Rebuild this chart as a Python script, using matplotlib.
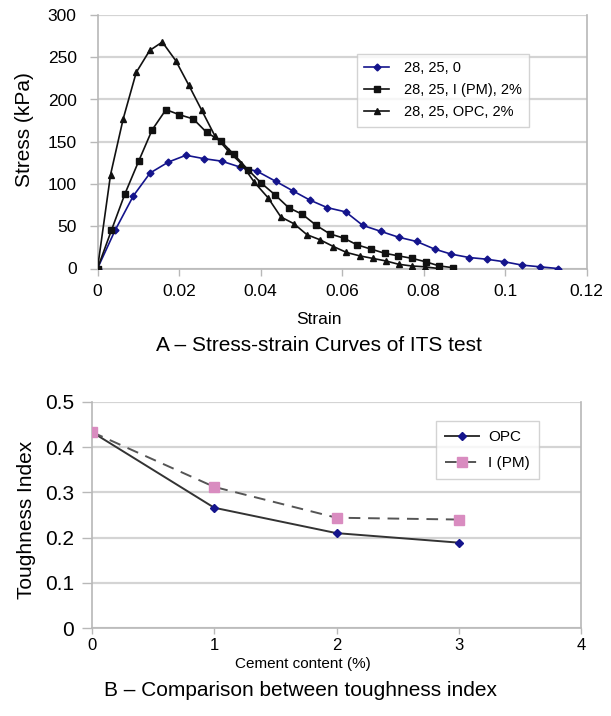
import matplotlib
matplotlib.use("Agg")
import matplotlib.pyplot as plt

plt.rcParams['font.family'] = ['Liberation Sans', 'DejaVu Sans']

# ---- Panel A data: stress-strain curves ----
blue_x = [0, 0.0043, 0.0088, 0.0129, 0.0174, 0.0217, 0.0261, 0.0305, 0.0350, 0.0392, 0.0438, 0.0479, 0.0521,
          0.0564, 0.0609, 0.0651, 0.0695, 0.0739, 0.0783, 0.0827, 0.0868, 0.0912, 0.0955, 0.0998, 0.1042, 0.1086, 0.1129]
blue_y = [0, 45, 86, 113, 126, 134, 130, 127, 120, 115, 103, 92, 81, 72, 67, 51, 44, 37, 32, 23, 17, 13, 11, 8, 4, 2, 0]

sq_x = [0, 0.0034, 0.0067, 0.0101, 0.0134, 0.0168, 0.0201, 0.0235, 0.0268, 0.0302, 0.0335, 0.0369, 0.0402, 0.0436,
        0.0469, 0.0503, 0.0537, 0.0570, 0.0604, 0.0637, 0.0671, 0.0705, 0.0738, 0.0772, 0.0805, 0.0839, 0.0872]
sq_y = [0, 45, 88, 127, 164, 188, 182, 177, 161, 151, 135, 117, 101, 87, 72, 64, 51, 41, 36, 28, 23, 18, 15, 12, 8, 3, 1]

tri_x = [0, 0.0032, 0.0063, 0.0095, 0.0128, 0.0159, 0.0192, 0.0224, 0.0256, 0.0288, 0.0321, 0.0353, 0.0385, 0.0418,
         0.0450, 0.0482, 0.0514, 0.0546, 0.0579, 0.0611, 0.0643, 0.0675, 0.0707, 0.0739, 0.0771, 0.0804, 0.0836]
tri_y = [0, 111, 177, 232, 258, 268, 246, 217, 187, 157, 139, 124, 102, 84, 61, 53, 40, 34, 26, 19, 15, 12, 9, 5, 3, 2, 0]

labels_a = ["28, 25, 0", "28, 25, I (PM), 2%", "28, 25, OPC, 2%"]
xticks_a = [0, 0.02, 0.04, 0.06, 0.08, 0.1, 0.12]
xticklabels_a = ["0", "0.02", "0.04", "0.06", "0.08", "0.1", "0.12"]
yticks_a = [0, 50, 100, 150, 200, 250, 300]

# ---- Panel B data: toughness index ----
cement = [0, 1, 2, 3]
opc = [0.433, 0.266, 0.210, 0.189]
ipm = [0.433, 0.312, 0.244, 0.240]
labels_b = ["OPC", "I (PM)"]
yticks_b = [0, 0.1, 0.2, 0.3, 0.4, 0.5]
yticklabels_b = ["0", "0.1", "0.2", "0.3", "0.4", "0.5"]
xticks_b = [0, 1, 2, 3, 4]

W, H = 611, 716
fig = plt.figure(figsize=(W / 100, H / 100), dpi=100)
fig.patch.set_facecolor('white')

grid_c = '#d4d4d4'
spine_c = '#b8b8b8'
navy = '#14148c'


def style_axes(ax):
    ax.grid(axis='y', color=grid_c, lw=1.6, zorder=0)
    ax.set_axisbelow(True)
    ax.spines['top'].set_visible(False)
    for s in ['left', 'bottom', 'right']:
        ax.spines[s].set_color(spine_c)
        ax.spines[s].set_linewidth(1.2)
    ax.tick_params(axis='both', direction='out', color=spine_c, width=1.0)


# Panel A
axA = fig.add_axes([97.5 / W, 1 - 268.5 / H, 489 / W, 253.5 / H])
axA.plot(blue_x, blue_y, color=navy, lw=1.2, marker='D', ms=3.5, mfc=navy, mec=navy, label=labels_a[0], zorder=3)
axA.plot(sq_x, sq_y, color='#111111', lw=1.2, marker='s', ms=3.8, mfc='#111111', mec='#111111', label=labels_a[1], zorder=4)
axA.plot(tri_x, tri_y, color='#111111', lw=1.2, marker='^', ms=4.2, mfc='#111111', mec='#111111', label=labels_a[2], zorder=4)
axA.set_xlim(0, 0.12)
axA.set_ylim(0, 300)
axA.set_xticks(xticks_a)
axA.set_xticklabels(xticklabels_a)
axA.set_yticks(yticks_a)
style_axes(axA)
axA.tick_params(axis='x', length=5, labelsize=12.5, pad=6)
axA.tick_params(axis='y', length=6, labelsize=12.5, pad=9)
legA = axA.legend(loc='upper left', bbox_to_anchor=(0.531, 0.846), fontsize=10.5, frameon=True,
                  fancybox=False, edgecolor='#c8c8c8', borderpad=0.5, labelspacing=0.55,
                  handlelength=1.7, handletextpad=1.0, borderaxespad=0)
legA.get_frame().set_linewidth(1.0)

fig.text(319 / W, 1 - 320 / H, "Strain", ha='center', va='center', fontsize=12.5)
fig.text(319 / W, 1 - 345 / H, "A \u2013 Stress-strain Curves of ITS test", ha='center', va='center', fontsize=15)
fig.text(25 / W, 1 - 130 / H, "Stress (kPa)", ha='center', va='center', rotation=90, fontsize=15)

# Panel B
axB = fig.add_axes([92 / W, 1 - 628.3 / H, 489 / W, 226.6 / H])
axB.plot(cement, opc, color='#333333', lw=1.4, marker='D', ms=4, mfc=navy, mec=navy, label=labels_b[0], zorder=3)
axB.plot(cement, ipm, color='#555555', lw=1.4, ls=(0, (6, 4)), marker='s', ms=6.5, mfc='#d98cc0', mec='#d98cc0',
         label=labels_b[1], zorder=3)
axB.set_xlim(0, 4)
axB.set_ylim(0, 0.5)
axB.set_xticks(xticks_b)
axB.set_yticks(yticks_b)
axB.set_yticklabels(yticklabels_b)
style_axes(axB)
axB.tick_params(axis='x', length=4, labelsize=12, pad=3)
axB.tick_params(axis='y', length=7, labelsize=15, pad=6)
legB = axB.legend(loc='upper left', bbox_to_anchor=(0.7035, 0.916), fontsize=11, frameon=True,
                  fancybox=False, edgecolor='#c8c8c8', borderpad=0.6, labelspacing=0.8,
                  handlelength=2.2, handletextpad=0.6, borderaxespad=0)
legB.get_frame().set_linewidth(1.0)

fig.text(303 / W, 1 - 664 / H, "Cement content (%)", ha='center', va='center', fontsize=11)
fig.text(300 / W, 1 - 690 / H, "B \u2013 Comparison between toughness index", ha='center', va='center', fontsize=15)
fig.text(27 / W, 1 - 520 / H, "Toughness Index", ha='center', va='center', rotation=90, fontsize=15)

fig.savefig("out.png", dpi=100, facecolor='white')
